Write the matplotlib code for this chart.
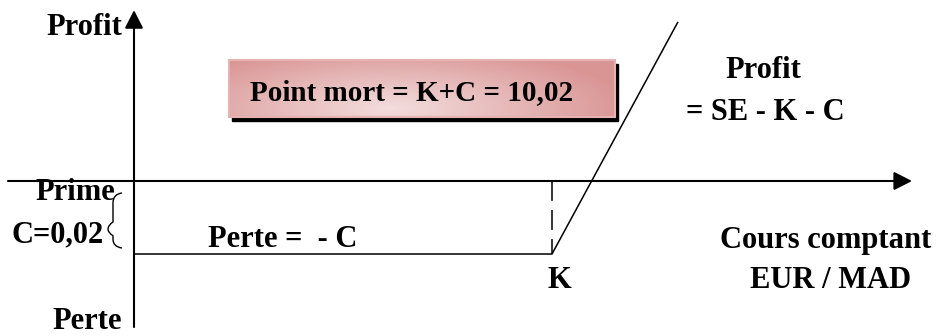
import matplotlib
matplotlib.use("Agg")
import matplotlib.pyplot as plt
import numpy as np
from matplotlib.path import Path
from matplotlib.patches import PathPatch, Rectangle

# schematic payoff of a bought call (units of the drawing, origin = axes crossing)
K = 4.18              # strike position on the spot axis
prime = -1.0          # level of the premium loss (-C)
spot = [0.0, K, 5.44]
payoff = [prime, prime, 2.18]

x_axis = (-1.26, 7.78)
y_axis = (-2.0, 2.34)

box_text = "Point mort = K+C = 10,02"
box_x = (0.95, 4.81)
box_y = (0.877, 1.658)

labels = [
    # text, x, y, ha
    ("Profit", -0.12, 2.0, "right"),
    ("Profit", 6.29, 1.41, "center"),
    ("= SE - K - C", 6.31, 0.836, "center"),
    ("Cours comptant", 6.92, -0.918, "center"),
    ("EUR / MAD", 6.97, -1.466, "center"),
    ("K", 4.25, -1.466, "center"),
    ("Perte =  - C", 0.74, -0.904, "left"),
    ("Prime", -0.99, -0.26, "left"),
    ("C=0,02", -1.22, -0.836, "left"),
    ("Perte", -0.12, -2.03, "right"),
]

FONT = "Liberation Serif"
FS = 22

fig = plt.figure(figsize=(9.39, 3.36), dpi=100)
ax = fig.add_axes([0, 0, 1, 1])
ax.set_xlim(-1.34, 8.05)
ax.set_ylim(-2.123, 2.479)
ax.axis("off")

arrow = dict(arrowstyle="-|>,head_length=0.55,head_width=0.28", color="black",
             lw=1.5, shrinkA=0, shrinkB=0, mutation_scale=20)
ax.annotate("", xy=(x_axis[1], 0), xytext=(x_axis[0], 0), arrowprops=arrow)
ax.annotate("", xy=(0, y_axis[1]), xytext=(0, y_axis[0]), arrowprops=arrow)

# payoff line and dashed strike marker
ax.plot(spot, payoff, color="black", lw=1.1, solid_capstyle="butt")
ax.plot([K, K], [0, prime], color="black", lw=1.1, linestyle=(0, (13, 6)))

# brace for the premium
bx = [-0.12, -0.21, -0.21, -0.21, -0.31, -0.21, -0.21, -0.21, -0.12]
by = [-0.164, -0.18, -0.30, -0.56, -0.66, -0.75, -0.80, -0.90, -0.918]
codes = [Path.MOVETO, Path.CURVE3, Path.CURVE3, Path.LINETO, Path.CURVE3,
         Path.CURVE3, Path.LINETO, Path.CURVE3, Path.CURVE3]
ax.add_patch(PathPatch(Path(list(zip(bx, by)), codes), fill=False, lw=1.0, color="black"))

# shaded box with drop shadow
w = box_x[1] - box_x[0]
h = box_y[1] - box_y[0]
ax.add_patch(Rectangle((box_x[0] + 0.03, box_y[0] - 0.055), w, h, color="black", zorder=2))
gx, gy = np.meshgrid(np.linspace(0, 1, 200), np.linspace(0, 1, 60))
t = np.clip(np.sqrt(((gx - 0.42) / 0.62) ** 2 + ((gy - 0.15) / 1.1) ** 2), 0, 1)
dark = np.array([217, 149, 148]) / 255
light = np.array([243, 221, 221]) / 255
img = light[None, None, :] * (1 - t[..., None]) + dark[None, None, :] * t[..., None]
im = ax.imshow(img, extent=(box_x[0], box_x[1], box_y[0], box_y[1]), origin="lower",
               aspect="auto", zorder=3, interpolation="bilinear")
border = Rectangle((box_x[0], box_y[0]), w, h, fill=False, ec="#e6b3b2", lw=1.5, zorder=4)
ax.add_patch(border)
im.set_clip_path(border)
ax.text(2.78, 1.11, box_text, ha="center", va="baseline", fontsize=21,
        fontweight="bold", family=FONT, zorder=5)

for txt, x, y, ha in labels:
    ax.text(x, y, txt, ha=ha, va="baseline", fontsize=FS, fontweight="bold",
            family=FONT, zorder=5)

fig.savefig("out.png", dpi=100)
